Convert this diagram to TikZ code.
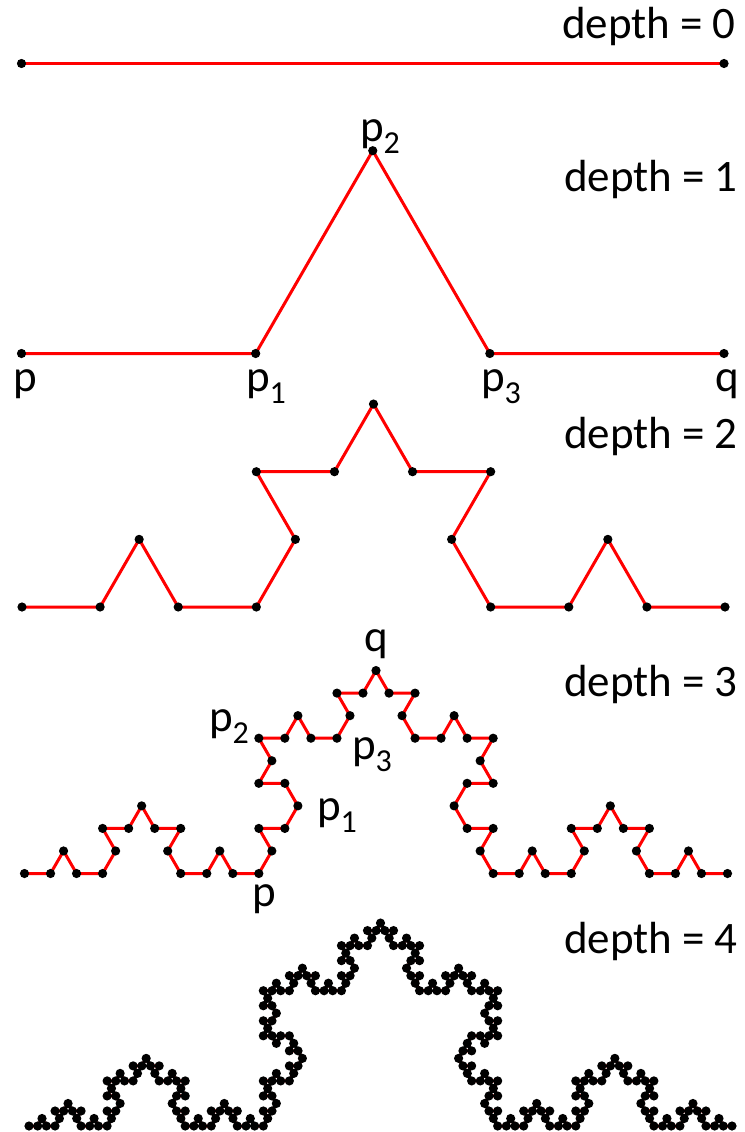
\documentclass[tikz,border=0pt]{standalone}
\usepackage{fontspec}
\setmainfont{Carlito}
\makeatletter
\def\kochpath{}
\def\kochdots{}
\def\kochrec#1#2#3#4#5{%
  \ifnum#1=0
    \xdef\kochpath{\kochpath -- (#4,#5)}%
    \xdef\kochdots{\kochdots (#4,#5) circle[radius=4.6]}%
  \else
    \begingroup
      \pgfmathsetmacro\kdx{(#4-#2)/3}%
      \pgfmathsetmacro\kdy{(#5-#3)/3}%
      \pgfmathsetmacro\kax{#2+\kdx}%
      \pgfmathsetmacro\kay{#3+\kdy}%
      \pgfmathsetmacro\kbx{#2+2*\kdx}%
      \pgfmathsetmacro\kby{#3+2*\kdy}%
      \pgfmathsetmacro\kcx{\kax+0.5*\kdx+0.8660254*\kdy}%
      \pgfmathsetmacro\kcy{\kay-0.8660254*\kdx+0.5*\kdy}%
      \pgfmathtruncatemacro\knd{#1-1}%
      \edef\knext{%
        \noexpand\kochrec{\knd}{#2}{#3}{\kax}{\kay}%
        \noexpand\kochrec{\knd}{\kax}{\kay}{\kcx}{\kcy}%
        \noexpand\kochrec{\knd}{\kcx}{\kcy}{\kbx}{\kby}%
        \noexpand\kochrec{\knd}{\kbx}{\kby}{#4}{#5}}%
    \expandafter\endgroup\knext
  \fi}
\newcommand\drawkoch[5]{%
  \gdef\kochpath{}\gdef\kochdots{}%
  \kochrec{#1}{#2}{#3}{#4}{#5}%
  \edef\kochtmp{\noexpand\draw[kochline] (#2,#3) \kochpath;%
    \noexpand\fill[kochdot] (#2,#3) circle[radius=4.6] \kochdots;}%
  \kochtmp}
\makeatother
\newcommand\sub[1]{\raisebox{-0.28em}{\fontsize{32}{36}\selectfont #1}}
\tikzset{
  kochline/.style={draw=red, line width=3, line join=round},
  kochdot/.style={fill=black},
  depthlabel/.style={anchor=base east, inner sep=0, font=\fontsize{45}{52}\selectfont},
  ptlabel/.style={anchor=base, inner sep=0, font=\fontsize{45}{52}\selectfont},
}
\begin{document}
\begin{tikzpicture}[x=1pt,y=-1pt]
\useasboundingbox[fill=white] (0,0) rectangle (744,1132);
% depth 0
\drawkoch{0}{21.5}{63.5}{724}{63.5}
\node[depthlabel] (d0) at (736,39) {depth = 0};
% depth 1
\drawkoch{1}{21.5}{353.5}{724}{353.5}
\node[depthlabel] (d1) at (738,191) {depth = 1};
\node[ptlabel] (l1p) at (25,391) {p};
\node[ptlabel] (l1p1) at (266,391) {p\sub{1}};
\node[ptlabel] (l1p3) at (501,391) {p\sub{3}};
\node[ptlabel] (l1q) at (727,391) {q};
\node[ptlabel] (l1p2) at (380,141) {p\sub{2}};
% depth 2
\drawkoch{2}{22}{607}{725}{607}
\node[depthlabel] (d2) at (738,448) {depth = 2};
% depth 3
\drawkoch{3}{24.5}{873.5}{727.5}{873.5}
\node[depthlabel] (d3) at (738,696) {depth = 3};
\node[ptlabel] (l3q) at (376,651) {q};
\node[ptlabel] (l3p2) at (229,731) {p\sub{2}};
\node[ptlabel] (l3p3) at (372,759) {p\sub{3}};
\node[ptlabel] (l3p1) at (337,820) {p\sub{1}};
\node[ptlabel] (l3p) at (264,906) {p};
% depth 4
\drawkoch{4}{29}{1126}{732}{1126}
\node[depthlabel] (d4) at (738,953) {depth = 4};
\end{tikzpicture}
\end{document}
